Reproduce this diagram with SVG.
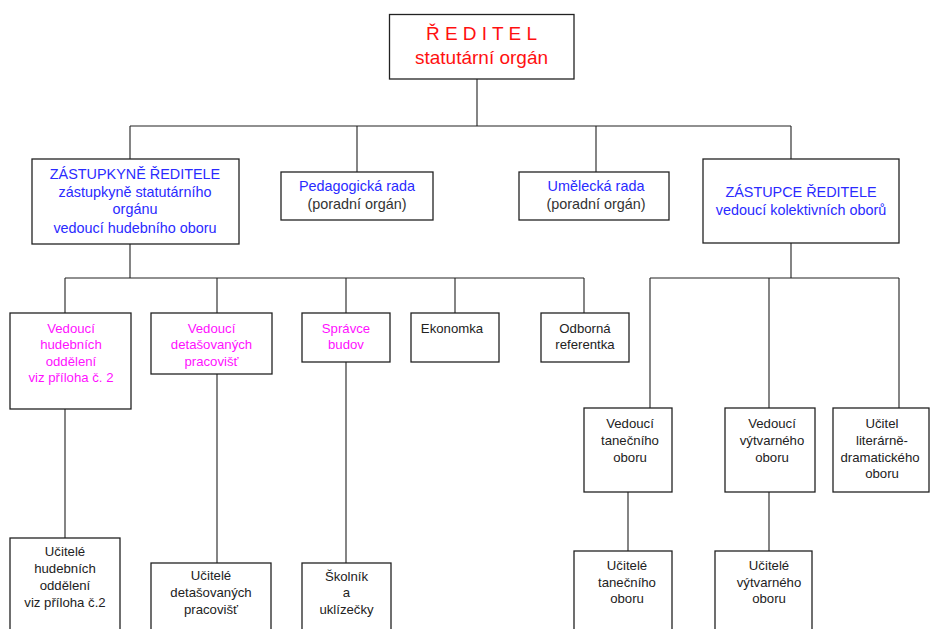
<svg xmlns="http://www.w3.org/2000/svg" width="930" height="629" viewBox="0 0 930 629">
<style>
.box{fill:#fff;stroke:#222;stroke-width:1.3}
.ln{fill:none;stroke:#222;stroke-width:1.1}
text{font-family:"Liberation Sans",Arial,sans-serif;text-anchor:middle}
.t1{font-size:14.4px}
.t2{font-size:13.2px}
.red{fill:#ff1010;font-size:19px}
.blue{fill:#2a2aff}
.mag{fill:#ff10ff}
.gray{fill:#333}
</style>
<rect width="930" height="629" fill="#fff"/>
<g id="connectors">
<path class="ln" d="M477 79V126M130 126H791M130 126V159M357 126V172M596 126V172M791 126V159"/>
<path class="ln" d="M130 244V278M65 278H584M65 278V313M217 278V313M346 278V313M455 278V313M584 278V313"/>
<path class="ln" d="M791 243V278M650 278H899M650 278V408M769 278V408M899 278V408"/>
<path class="ln" d="M65 409V538M217 374V563M346 362V563M628 492V551M769 492V551"/>
</g>
<g id="reditel"><rect class="box" x="389.5" y="14.5" width="184.5" height="64.5"/><text class="red" x="481.5" y="40">Ř E D I T E L</text><text class="red" x="481.5" y="64">statutární orgán</text></g>
<g id="zastupkyne"><rect class="box" x="32" y="159" width="207" height="85"/><text class="t1 blue" x="135" y="179">ZÁSTUPKYNĚ ŘEDITELE</text><text class="t1 blue" x="135" y="197">zástupkyně statutárního</text><text class="t1 blue" x="135" y="214">orgánu</text><text class="t1 blue" x="135" y="233">vedoucí hudebního oboru</text></g>
<g id="pedagogicka"><rect class="box" x="281" y="172" width="152" height="48"/><text class="t1 blue" x="357" y="191">Pedagogická rada</text><text class="t1 gray" x="357" y="209">(poradní orgán)</text></g>
<g id="umelecka"><rect class="box" x="519" y="172" width="150" height="48"/><text class="t1 blue" x="596" y="191">Umělecká rada</text><text class="t1 gray" x="596" y="209">(poradní orgán)</text></g>
<g id="zastupce"><rect class="box" x="703" y="159" width="196" height="84"/><text class="t1 blue" x="801" y="197">ZÁSTUPCE ŘEDITELE</text><text class="t1 blue" x="801" y="215">vedoucí kolektivních oborů</text></g>
<g id="ved-hudebnich"><rect class="box" x="10" y="313" width="121" height="96"/><text class="t2 mag" x="71" y="333">Vedoucí</text><text class="t2 mag" x="71" y="349">hudebních</text><text class="t2 mag" x="71" y="366">oddělení</text><text class="t2 mag" x="71" y="382">viz příloha č. 2</text></g>
<g id="ved-detas"><rect class="box" x="151" y="313" width="121" height="61"/><text class="t2 mag" x="211.5" y="333">Vedoucí</text><text class="t2 mag" x="211.5" y="349">detašovaných</text><text class="t2 mag" x="211.5" y="366">pracovišť</text></g>
<g id="spravce"><rect class="box" x="302" y="313" width="88" height="49"/><text class="t2 mag" x="346" y="333">Správce</text><text class="t2 mag" x="346" y="349">budov</text></g>
<g id="ekonomka"><rect class="box" x="411" y="313" width="88" height="49"/><text class="t2" x="452" y="333" fill="#222">Ekonomka</text></g>
<g id="referentka"><rect class="box" x="541" y="313" width="88" height="49"/><text class="t2" x="585" y="333" fill="#222">Odborná</text><text class="t2" x="585" y="349" fill="#222">referentka</text></g>
<g id="ved-tanecniho"><rect class="box" x="584" y="408" width="88" height="84"/><text class="t2" x="630" y="428" fill="#222">Vedoucí</text><text class="t2" x="630" y="445" fill="#222">tanečního</text><text class="t2" x="630" y="462" fill="#222">oboru</text></g>
<g id="ved-vytvarneho"><rect class="box" x="725" y="408" width="90" height="84"/><text class="t2" x="772" y="428" fill="#222">Vedoucí</text><text class="t2" x="772" y="445" fill="#222">výtvarného</text><text class="t2" x="772" y="462" fill="#222">oboru</text></g>
<g id="ucitel-literarne"><rect class="box" x="833" y="408" width="96" height="84"/><text class="t2" x="882" y="428" fill="#222">Učitel</text><text class="t2" x="882" y="445" fill="#222">literárně-</text><text class="t2" x="880" y="462" fill="#222">dramatického</text><text class="t2" x="882" y="478" fill="#222">oboru</text></g>
<g id="ucitele-hudebnich"><rect class="box" x="10" y="538" width="110" height="100"/><text class="t2" x="65" y="556" fill="#222">Učitelé</text><text class="t2" x="65" y="573" fill="#222">hudebních</text><text class="t2" x="65" y="590" fill="#222">oddělení</text><text class="t2" x="65" y="607" fill="#222">viz příloha č.2</text></g>
<g id="ucitele-detas"><rect class="box" x="151" y="563" width="120" height="75"/><text class="t2" x="211" y="580" fill="#222">Učitelé</text><text class="t2" x="211" y="597" fill="#222">detašovaných</text><text class="t2" x="211" y="614" fill="#222">pracovišť</text></g>
<g id="skolnik"><rect class="box" x="302" y="563" width="89" height="75"/><text class="t2" x="346.5" y="581" fill="#222">Školník</text><text class="t2" x="346.5" y="597" fill="#222">a</text><text class="t2" x="346.5" y="614" fill="#222">uklízečky</text></g>
<g id="ucitele-tanecniho"><rect class="box" x="574" y="551" width="98" height="90"/><text class="t2" x="627" y="570" fill="#222">Učitelé</text><text class="t2" x="627" y="587" fill="#222">tanečního</text><text class="t2" x="627" y="603" fill="#222">oboru</text></g>
<g id="ucitele-vytvarneho"><rect class="box" x="715" y="551" width="97" height="90"/><text class="t2" x="769" y="570" fill="#222">Učitelé</text><text class="t2" x="769" y="587" fill="#222">výtvarného</text><text class="t2" x="769" y="603" fill="#222">oboru</text></g>
</svg>
